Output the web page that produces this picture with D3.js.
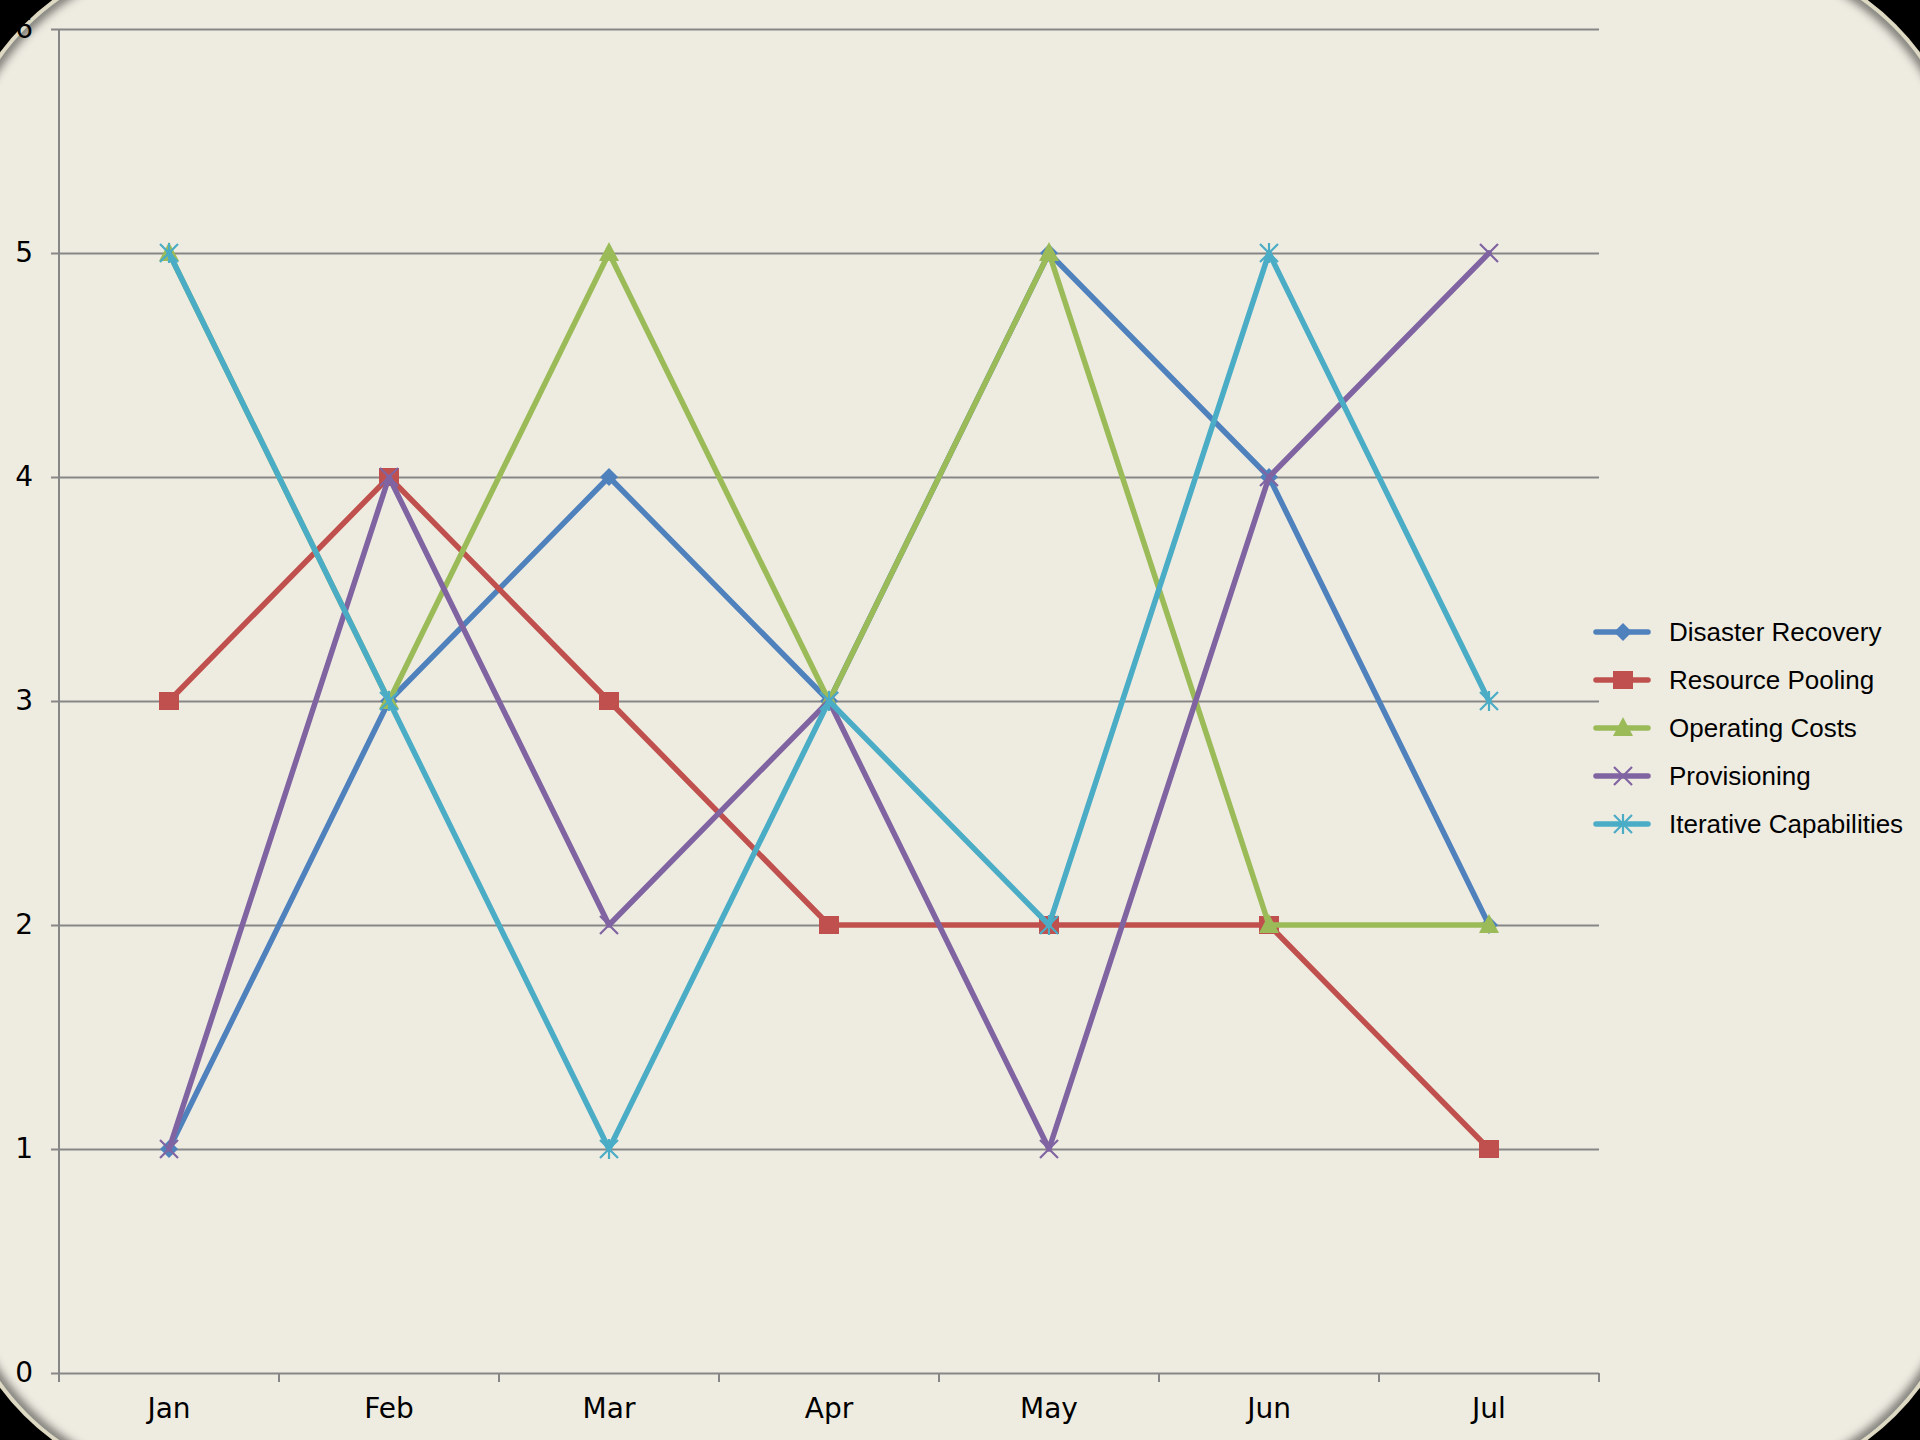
<!DOCTYPE html>
<html>
<head>
<meta charset="utf-8">
<script src="https://cdn.jsdelivr.net/npm/d3@7"></script>
<style>
  html, body { margin: 0; padding: 0; background: #000; }
  svg { display: block; }
</style>
</head>
<body>
<svg id="chart"></svg>
<script>
var months = ["Jan", "Feb", "Mar", "Apr", "May", "Jun", "Jul"];
var seriesNames = ["Disaster Recovery", "Resource Pooling", "Operating Costs", "Provisioning", "Iterative Capabilities"];
var disasterRecovery = [1, 3, 4, 3, 5, 4, 2];
var resourcePooling = [3, 4, 3, 2, 2, 2, 1];
var operatingCosts = [5, 3, 5, 3, 5, 2, 2];
var provisioning = [1, 4, 2, 3, 1, 4, 5];
var iterativeCapabilities = [5, 3, 1, 3, 2, 5, 3];
var yTicks = [0, 1, 2, 3, 4, 5, 6];

var colors = ["#4F81BD", "#C0504D", "#9BBB59", "#8064A2", "#4BACC6"];
var shapes = ["diamond", "square", "triangle", "x", "asterisk"];
var allValues = [disasterRecovery, resourcePooling, operatingCosts, provisioning, iterativeCapabilities];

var width = 1920, height = 1440;
var svg = d3.select("#chart").attr("width", width).attr("height", height);

// frame: big rounded panel, corners cut off by black
var off = 49, rad = 250;
var defs = svg.append("defs");
defs.append("clipPath").attr("id", "panelClip")
  .append("rect")
  .attr("x", -off + 4).attr("y", -off + 4)
  .attr("width", width + 2 * off - 8).attr("height", height + 2 * off - 8)
  .attr("rx", rad - 4).attr("ry", rad - 4);
var blur = defs.append("filter").attr("id", "soft")
  .attr("x", "-10%").attr("y", "-10%").attr("width", "120%").attr("height", "120%");
blur.append("feGaussianBlur").attr("stdDeviation", 5);

svg.append("rect")
  .attr("x", -off).attr("y", -off)
  .attr("width", width + 2 * off).attr("height", height + 2 * off)
  .attr("rx", rad).attr("ry", rad)
  .attr("fill", "#DDD9C3");

var panel = svg.append("g").attr("clip-path", "url(#panelClip)");
panel.append("rect")
  .attr("x", 0).attr("y", 0).attr("width", width).attr("height", height)
  .attr("fill", "#EEECE1");
panel.append("rect")
  .attr("x", -off + 4).attr("y", -off + 4)
  .attr("width", width + 2 * off - 8).attr("height", height + 2 * off - 8)
  .attr("rx", rad - 4).attr("ry", rad - 4)
  .attr("fill", "none")
  .attr("stroke", "#000")
  .attr("stroke-opacity", 0.55)
  .attr("stroke-width", 10)
  .attr("filter", "url(#soft)");

//scales
var x = d3.scaleBand().domain(months).range([59, 1599]).padding(0);
var y = d3.scaleLinear().domain([0, 6]).range([1373, 29]);
var cx = function (m) { return x(m) + x.bandwidth() / 2; };

// gridlines + y axis
var yAxis = d3.axisLeft(y)
  .tickValues(yTicks)
  .tickSize(-(1599 - 59))
  .tickSizeOuter(0)
  .tickFormat(d3.format("d"));

var gy = svg.append("g").attr("transform", "translate(59,0)").call(yAxis);
gy.select(".domain").remove();
gy.selectAll(".tick line")
  .attr("x1", -8)
  .attr("stroke", "#868686")
  .attr("stroke-width", 2);
gy.selectAll(".tick text")
  .attr("x", -26)
  .attr("fill", "#000")
  .style("font-family", "'DejaVu Sans', Verdana, sans-serif")
  .style("font-size", "28px");

svg.append("line")
  .attr("x1", 59).attr("x2", 59)
  .attr("y1", y(6)).attr("y2", y(0) + 8)
  .attr("stroke", "#868686").attr("stroke-width", 2);

// x axis ticks at category edges
var edges = months.map(function (m) { return x(m); }).concat([x.range()[1]]);
svg.selectAll(".xtick")
  .data(edges)
  .enter()
  .append("line")
  .attr("class", "xtick")
  .attr("x1", function (d) { return d; })
  .attr("x2", function (d) { return d; })
  .attr("y1", y(0))
  .attr("y2", y(0) + 9)
  .attr("stroke", "#868686")
  .attr("stroke-width", 2);

svg.selectAll(".xlabel")
  .data(months)
  .enter()
  .append("text")
  .attr("class", "xlabel")
  .text(function (d) { return d; })
  .attr("x", cx)
  .attr("y", y(0) + 45)
  .attr("text-anchor", "middle")
  .style("font-family", "'DejaVu Sans', Verdana, sans-serif")
  .style("font-size", "28px")
  .attr("fill", "#000");

// marker paths
function markerPath(shape) {
  if (shape == "diamond") return "M0,-9L9,0L0,9L-9,0Z";
  if (shape == "square") return "M-10,-9H10V9H-10Z";
  if (shape == "triangle") return "M0,-11L10,8H-10Z";
  if (shape == "x") return "M-9,-9L9,9M-9,9L9,-9";
  return "M-9,-9L9,9M-9,9L9,-9M0,-10V10";
}
function drawMarker(g, shape, color) {
  var filled = shape == "diamond" || shape == "square" || shape == "triangle";
  g.append("path")
    .attr("d", markerPath(shape))
    .attr("fill", filled ? color : "none")
    .attr("stroke", filled ? "none" : color)
    .attr("stroke-width", 2.2);
}

var line = d3.line()
  .x(function (d, i) { return cx(months[i]); })
  .y(function (d) { return y(d); });

allValues.forEach(function (vals, s) {
  var g = svg.append("g");
  g.append("path")
    .datum(vals)
    .attr("d", line)
    .attr("fill", "none")
    .attr("stroke", colors[s])
    .attr("stroke-width", 5.5)
    .attr("stroke-linejoin", "round")
    .attr("stroke-linecap", "round");
  vals.forEach(function (v, i) {
    var m = g.append("g").attr("transform", "translate(" + cx(months[i]) + "," + y(v) + ")");
    drawMarker(m, shapes[s], colors[s]);
  });
});

// legend
var legend = svg.append("g").attr("transform", "translate(1596,632)");
seriesNames.forEach(function (name, i) {
  var row = legend.append("g").attr("transform", "translate(0," + (i * 48) + ")");
  row.append("line")
    .attr("x1", 0).attr("x2", 52)
    .attr("y1", 0).attr("y2", 0)
    .attr("stroke", colors[i])
    .attr("stroke-width", 5.5)
    .attr("stroke-linecap", "round");
  var m = row.append("g").attr("transform", "translate(27,0)");
  drawMarker(m, shapes[i], colors[i]);
  row.append("text")
    .text(name)
    .attr("x", 73)
    .attr("y", 9)
    .style("font-family", "'Liberation Sans', Arial, sans-serif")
    .style("font-size", "26px")
    .attr("fill", "#000");
});
</script>
</body>
</html>
